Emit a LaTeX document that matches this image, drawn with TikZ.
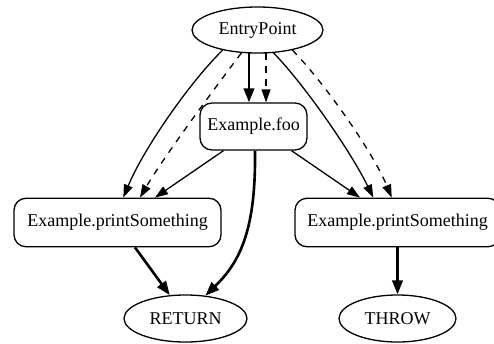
\documentclass[tikz,border=0pt]{standalone}
\usepackage{fontspec}
\setmainfont{Liberation Serif}
\usetikzlibrary{shapes.geometric,arrows.meta}
\begin{document}
\begin{tikzpicture}[x=1pt,y=-1pt,
  box/.style={draw, line width=1.3pt, inner sep=0pt,
    font=\rmfamily\fontsize{18}{21}\selectfont},
  oval/.style={box, ellipse},
  method/.style={box, rectangle, rounded corners=12pt},
  flow/.style={line width=1.3pt, -{Triangle[length=13pt,width=9pt]}},
  heavyflow/.style={line width=2.6pt, -{Triangle[length=14pt,width=10.5pt]}},
  dashflow/.style={flow, dash pattern=on 6.5pt off 6.5pt}]
\useasboundingbox (0,0) rectangle (494,343);
\clip (0,0) rectangle (494,343);

% nodes
\node[oval, minimum width=131pt, minimum height=46pt] (ep) at (257.5,30) {EntryPoint};
\node[method, minimum width=107pt, minimum height=47pt] (foo) at (253.5,126.5) {Example.foo};
\node[method, minimum width=207pt, minimum height=48.5pt] (lps) at (117.5,222.5) {Example.printSomething};
\node[method, minimum width=205pt, minimum height=48.5pt] (rps) at (397.5,222.5) {Example.printSomething};
\node[oval, minimum width=123pt, minimum height=47pt] (ret) at (185.5,318.5) {RETURN};
\node[oval, minimum width=117pt, minimum height=47pt] (thr) at (397.5,318.5) {THROW};

% EntryPoint -> Example.foo
\draw[heavyflow] (ep.250) -- (ep.250 |- foo.north);
\draw[dashflow] (ep.290) -- (ep.290 |- foo.north);

% EntryPoint -> left printSomething
\draw[flow] (ep.210) .. controls (190,82) and (144,148) .. ([xshift=5.8pt]lps.north);
\draw[dashflow] (ep.235) .. controls (217,85) and (163,158) .. ([xshift=22.5pt]lps.north);

% EntryPoint -> right printSomething
\draw[flow] (ep.305) .. controls (303,83) and (350,150) .. ([xshift=-24.2pt]rps.north);
\draw[dashflow] (ep.330) .. controls (322,80) and (372,150) .. ([xshift=-5.8pt]rps.north);

% Example.foo -> callees
\draw[flow] ([xshift=-30pt]foo.south) -- ([xshift=37.5pt]lps.north);
\draw[flow] ([xshift=38pt]foo.south) -- ([xshift=-37.5pt]rps.north);
\draw[heavyflow] ([xshift=1.5pt]foo.south) .. controls (256,230) and (240,262) .. (ret.49);

% exits
\draw[heavyflow] ([xshift=17.5pt]lps.south) -- (ret.124);
\draw[heavyflow] (rps.south) -- (thr.north);
\end{tikzpicture}
\end{document}
